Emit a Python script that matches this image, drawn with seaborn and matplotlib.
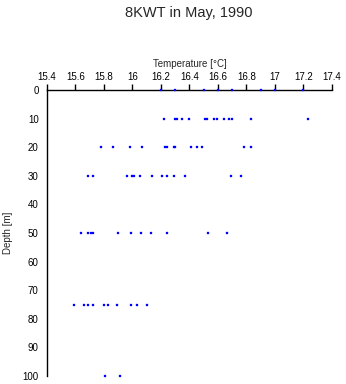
import pandas as pd
import seaborn as sns
import matplotlib
matplotlib.use("Agg")
import matplotlib.pyplot as plt

# temperatures, one list per sampling depth
temp_0 = [16.20, 16.30, 16.50, 16.60, 16.70, 16.90, 17.00, 17.20]
temp_10 = [16.22, 16.30, 16.31, 16.35, 16.40, 16.51, 16.52, 16.57, 16.59,
           16.64, 16.68, 16.70, 16.83, 17.23]
temp_20 = [15.78, 15.86, 15.98, 16.07, 16.23, 16.24, 16.29, 16.30, 16.41,
           16.45, 16.49, 16.78, 16.83]
temp_30 = [15.69, 15.72, 15.96, 16.00, 16.01, 16.05, 16.14, 16.21, 16.24,
           16.29, 16.37, 16.69, 16.76]
temp_50 = [15.64, 15.69, 15.71, 15.72, 15.90, 15.99, 16.06, 16.13, 16.24,
           16.53, 16.66]
temp_75 = [15.59, 15.66, 15.69, 15.72, 15.80, 15.83, 15.89, 15.99, 16.03,
           16.10]
temp_100 = [15.81, 15.91]

depths = [0, 10, 20, 30, 50, 75, 100]
temps = [temp_0, temp_10, temp_20, temp_30, temp_50, temp_75, temp_100]

rows = []
for d, tl in zip(depths, temps):
    for t in tl:
        rows.append({"temp": t, "depth": d})
df = pd.DataFrame(rows)

xticks = [15.4, 15.6, 15.8, 16, 16.2, 16.4, 16.6, 16.8, 17, 17.2, 17.4]
xtick_labels = ["15.4", "15.6", "15.8", "16", "16.2", "16.4", "16.6", "16.8",
                "17", "17.2", "17.4"]
yticks = [0, 10, 20, 30, 40, 50, 60, 70, 80, 90, 100]

sns.set_style("white")
plt.rcParams["font.family"] = ["Liberation Sans", "DejaVu Sans"]

fig = plt.figure(figsize=(3.46, 3.84), dpi=100)
ax = fig.add_axes([47 / 346, 1 - 376 / 384, 285 / 346, 286 / 384])

sns.scatterplot(data=df, x="temp", y="depth", ax=ax, marker="s", s=4,
                color="#0000ff", edgecolor="#0000ff", linewidth=0.2,
                clip_on=False, zorder=3)

ax.set_xlim(15.4, 17.4)
ax.set_ylim(100, 0)
ax.xaxis.tick_top()
ax.xaxis.set_label_position("top")
ax.set_xticks(xticks)
ax.set_xticklabels(xtick_labels)
ax.set_yticks(yticks)
ax.tick_params(axis="both", direction="out", length=4, width=1, labelsize=7,
               colors="black", pad=2)
ax.set_xlabel("Temperature [\u00b0C]", fontsize=7, labelpad=3)
ax.set_ylabel("Depth [m]", fontsize=7, labelpad=7)

for side in ["right", "bottom"]:
    ax.spines[side].set_visible(False)
for side in ["left", "top"]:
    ax.spines[side].set_color("black")
    ax.spines[side].set_linewidth(1)

fig.text(0.546, 0.965, "8KWT in May, 1990", ha="center", va="center",
         fontsize=10.5)

fig.savefig("out.png", dpi=100)
